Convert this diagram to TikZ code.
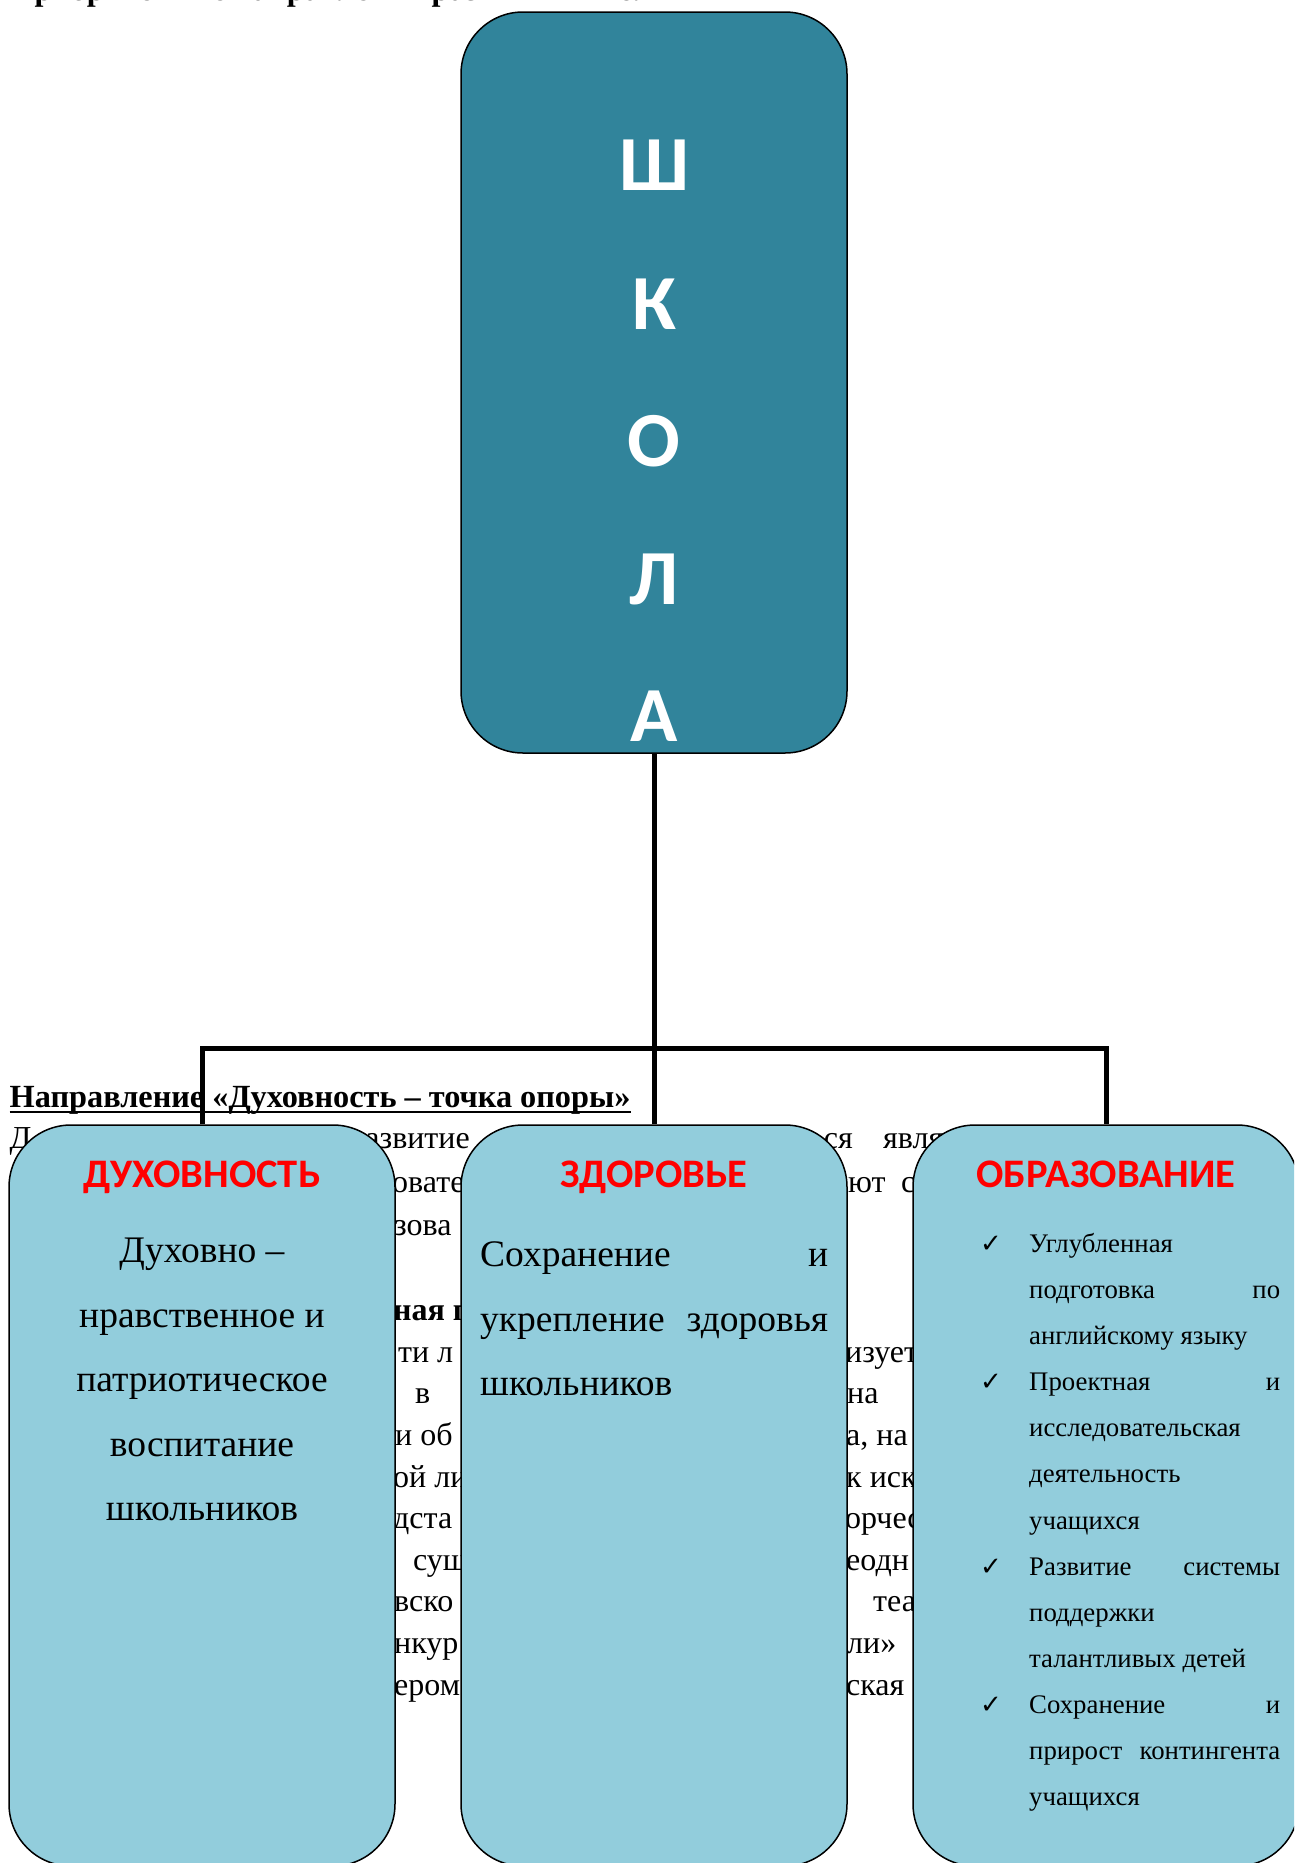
\documentclass[tikz,border=0pt]{standalone}
\usepackage{fontspec}
\setmainfont{Liberation Serif}
\newfontfamily\calib{Carlito}
\newfontfamily\dejavu{DejaVu Sans}
\definecolor{schoolcol}{HTML}{31849B}
\definecolor{boxcol}{HTML}{92CDDC}
\pgfdeclarelayer{txt}
\pgfdeclarelayer{conn}
\pgfsetlayers{txt,conn,main}
\tikzset{
  bigbox/.style={draw=black, line width=1.5pt, rounded corners=62pt, minimum width=386pt, minimum height=741pt, inner sep=0pt},
  connline/.style={line width=5pt},
  bgtext/.style={inner sep=0pt, font=\fontsize{32pt}{32pt}\selectfont},
  titletext/.style={text=red, font=\calib\bfseries\fontsize{40.5pt}{40.5pt}\selectfont, anchor=base, inner sep=0pt},
  schoolletter/.style={text=white, font=\calib\bfseries\fontsize{78pt}{78pt}\selectfont, anchor=base, inner sep=0pt},
  bodytext/.style={inner sep=0pt, font=\fontsize{37.5pt}{37.5pt}\selectfont},
  smalltext/.style={inner sep=0pt, font=\fontsize{26.8pt}{26.8pt}\selectfont, anchor=base west},
  checkmark/.style={inner sep=0pt, font=\dejavu\fontsize{26pt}{26pt}\selectfont, anchor=base},
}
\begin{document}
\begin{tikzpicture}[x=1pt,y=-1pt]
\useasboundingbox (0,0) rectangle (1294,1863);
\clip (0,0) rectangle (1294,1863);

% boxes
\node[bigbox, fill=schoolcol] (school) at (654,382.5) {};
\node[bigbox, fill=boxcol] (dukh) at (202,1495.5) {};
\node[bigbox, fill=boxcol] (zdor) at (654,1495.5) {};
\node[bigbox, fill=boxcol] (obr) at (1106,1495.5) {};

% background document text
\begin{pgfonlayer}{txt}
\fill[white] (0,0) rectangle (1294,1863);
\node[bgtext, font=\bfseries\fontsize{32pt}{32pt}\selectfont, anchor=base west] (toptext) at (9.5,0.5) {Приоритетные направления развития школы};
\node[bgtext, font=\bfseries\fontsize{32.3pt}{32.3pt}\selectfont, anchor=base west] (heading) at (9.5,1107) {Направление «Духовность – точка опоры»};
\draw[line width=2.5pt] ([yshift=-5pt]heading.base west) -- ([yshift=-5pt]heading.base east);
\foreach \x/\y/\a/\t [count=\i] in {
  9.5/1148/base west/Д,
  470/1148/base east/развитие,
  853/1148/base east/ся,
  883/1148/base west/явля,
  392/1192/base west/овате,
  848/1192/base west/ют,
  901/1192/base west/с,
  394/1235/base west/зова,
  393/1320/base west/{\textbf{ная п}},
  398/1362/base west/ти,
  437/1362/base west/л,
  845/1362/base west/изует,
  415/1403/base west/в,
  847/1403/base west/на,
  395/1445/base west/{и об},
  846/1445/base west/{а, на},
  393/1487/base west/{ой ли},
  846/1487/base west/{к иск},
  393/1528/base west/дста,
  845/1528/base west/орчес,
  413/1570/base west/сущ,
  846/1570/base west/еодн,
  394/1611/base west/вско,
  873/1611/base west/теа,
  394/1653/base west/нкур,
  847/1653/base west/ли»,
  394/1695/base west/ером,
  846/1695/base west/ская}
  \node[bgtext, anchor=\a] (frag\i) at (\x,\y) {\t};
\end{pgfonlayer}

% connectors
\begin{pgfonlayer}{conn}
\coordinate (bus) at (654,1048);
\draw[connline] (school.south) -- (bus);
\draw[connline] (dukh.north) |- (bus);
\draw[connline] (zdor.north) -- (bus);
\draw[connline] (obr.north) |- (bus);
\end{pgfonlayer}

% school letters
\foreach \l/\y in {Ш/190, К/329, О/466, Л/604, А/741}
  \node[schoolletter] (let\y) at (654,\y) {\l};

% titles
\node[titletext] (t1) at (202,1187) {ДУХОВНОСТЬ};
\node[titletext] (t2) at (654,1187) {ЗДОРОВЬЕ};
\node[titletext] (t3) at (1106,1187) {ОБРАЗОВАНИЕ};

% left box body
\foreach \t [count=\i] in {Духовно –, нравственное и, патриотическое, воспитание, школьников}
  \node[bodytext, anchor=base] (dl\i) at (202,{1262.5+64.5*(\i-1)}) {\t};

% middle box body
\node[bodytext, anchor=base west] (zl1) at (480,1266.5) {\hbox to 348pt{Сохранение\hfill и}};
\node[bodytext, anchor=base west] (zl2) at (480,1331.5) {\hbox to 348pt{укрепление\hfill здоровья}};
\node[bodytext, anchor=base west] (zl3) at (480,1395.5) {школьников};

% right box body
\foreach \t [count=\i] in {
  Углубленная,
  {\hbox to 251pt{подготовка\hfill по}},
  английскому языку,
  {\hbox to 251pt{Проектная\hfill и}},
  исследовательская,
  деятельность,
  учащихся,
  {\hbox to 251pt{Развитие\hfill системы}},
  поддержки,
  талантливых детей,
  {\hbox to 251pt{Сохранение\hfill и}},
  {\hbox to 251pt{прирост\hfill контингента}},
  учащихся}
  \node[smalltext] (ol\i) at (1029,{1252.4+46.1*(\i-1)}) {\t};
\foreach \i in {1,4,8,11}
  \node[checkmark] (ck\i) at (991,{1252.4+46.1*(\i-1)}) {✓};
\end{tikzpicture}
\end{document}
